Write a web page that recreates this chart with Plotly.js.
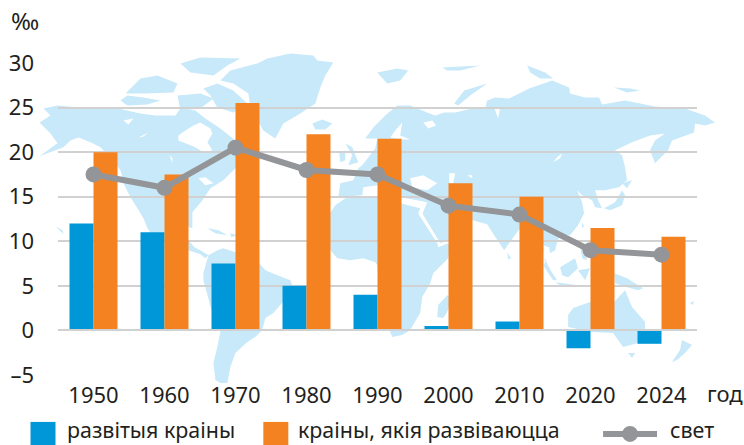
<!DOCTYPE html>
<html><head><meta charset="utf-8">
<script src="https://cdn.plot.ly/plotly-3.0.1.min.js"></script>
<style>html,body{margin:0;padding:0;background:#fff}#c{width:744px;height:445px}</style>
</head><body><div id="c"></div>
<script>
const years = ['1950','1960','1970','1980','1990','2000','2010','2020','2024'];
const developed = [12,11,7.5,5,4,0.5,1,-2,-1.5];
const developing = [20,17.5,25.5,22,21.5,16.5,15,11.5,10.5];
const world = [17.5,16,20.5,18,17.5,14,13,9,8.5];
const yTickVals = [-5,0,5,10,15,20,25,30];
const yTickText = ['–5','0','5','10','15','20','25','30'];
const seriesNames = ['развітыя краіны','краіны, якія развіваюцца','свет'];

// Decorative world-map backdrop: outlines traced in image pixels
const mapLand = [
 // North + Central America
 [39,122,50,115,43,108,57,105,87,108,113,107,140,113,155,115,175,115,180,108,195,110,205,118,220,128,235,140,238,165,223,180,210,188,202,200,192,212,192,228,186,226,180,232,188,240,194,247,200,250,208,255,205,258,200,254,188,250,180,250,164,240,150,232,147,228,143,218,137,208,130,197,124,185,120,170,112,160,100,147,90,142,78,137,70,140,63,147,39,156,57,143,50,133],
 // Greenland
 [267,58,290,53,313,55,317,60,333,62,325,75,320,87,315,103,300,113,283,123,275,138,263,130,250,107,248,93,233,83,220,80,230,70,257,63],
 // Arctic islands
 [180,63,200,57,240,58,227,65,213,75,190,72],[140,78,157,75,177,83,173,92,143,93,125,93],[120,100,127,95,143,97,160,100,147,104,127,105],[177,95,200,93,213,98,200,108,180,110],[203,88,217,83,233,90,247,103,233,112,217,107,210,95],
 // Cuba, Hispaniola, Hawaii, Iceland, Britain, Ireland
 [207,228,218,230,227,235,215,233],[230,233,237,235,231,237],[55,226,62,230,63,234],[312,123,322,119,332,123,325,129,315,129],[345,143,352,147,358,162,348,165,352,155],[339,153,345,150,345,160,340,162],
 // South America
 [208,255,217,250,223,248,235,252,259,263,265,270,277,275,290,280,292,285,287,297,273,313,265,318,262,330,255,337,247,342,235,353,230,367,227,383,220,383,215,380,213,363,217,347,220,332,212,313,203,280,203,273],
 // Eurasia
 [373,127,385,115,397,105,410,105,427,112,435,115,444,112,455,112,472,108,485,108,487,100,495,97,509,98,515,95,529,88,552,80,569,87,570,93,585,97,599,97,602,104,625,100,655,106,685,108,705,115,715,122,705,125,695,123,694,132,672,140,668,150,655,163,650,150,655,140,665,133,650,135,632,142,615,150,622,155,625,167,627,180,619,187,605,190,595,190,598,200,602,208,595,207,592,200,582,195,577,190,582,202,584,213,578,225,570,235,560,235,557,242,555,250,550,253,549,247,543,245,544,257,552,273,545,262,543,250,530,240,519,229,504,250,494,235,487,224,472,220,460,235,448,240,440,243,422,214,427,202,401,197,377,185,363,187,362,195,338,197,340,183,353,180,358,168,362,165,375,148,377,138,365,138],
 // Africa
 [335,205,345,198,377,197,400,203,420,208,418,213,437,242,438,247,448,243,450,245,448,258,433,273,430,283,422,297,420,313,410,330,402,335,392,337,390,332,380,300,377,265,375,262,363,258,350,260,337,258,330,250,322,235,325,220],
 // Madagascar, Sri Lanka
 [447,295,452,296,447,312,443,318,437,317,438,305],[507,252,511,258,508,259],
 // Japan, Hokkaido, Taiwan, Philippines
 [604,208,615,202,622,190,625,195,622,205,610,210],[622,183,632,180,627,188],[582,222,584,226,582,228],[580,245,585,250,587,260,582,258],
 // Arctic islands of Eurasia
 [377,72,397,68,408,70,400,80,387,83],[442,67,480,65,460,70,447,70],[527,65,545,72,553,78,540,78,530,72],[614,87,630,88,640,90,627,92],[454,103,464,90,487,83,470,95,458,105],
 // Sumatra, Borneo, Java, Sulawesi, New Guinea
 [545,262,557,280,553,280,543,265],[560,267,575,258,578,268,568,277,562,275],[555,282,578,285,560,285],[578,270,590,268,585,280],[614,273,627,278,643,288,638,290,627,287,615,283],
 // Australia, Tasmania, New Zealand, Fiji
 [568,315,573,308,590,302,614,302,625,290,632,307,645,322,645,330,638,343,623,347,613,333,592,332,568,327],[628,353,635,353,632,358],[682,340,692,345,685,353,677,360,672,362,680,350],[690,303,694,301,693,305]
];
const mapHoles = [
 // Hudson Bay
 [178,135,185,130,193,125,200,122,210,128,212,133,207,142,212,150,203,152,195,147,185,143,178,140],
 // Canadian and Great lakes
 [123,120,133,118,128,124],[138,137,148,132,143,136],[169,155,172,158,172,163],[198,178,205,177,213,183,205,185],
 // Baltic, White Sea
 [402,122,395,130,390,137,402,139,410,139,400,135],[423,122,432,120,436,125,428,128],
 // Black Sea, Caspian, Aral, Baikal, Ob gulf
 [410,178,423,175,437,183,427,190,412,187],[449,173,455,173,453,183,449,183],[467,175,472,175,472,178],[562,153,560,158,553,162,557,157],[494,107,500,107,498,118],
 // Mediterranean east, Red Sea
 [377,190,400,198,377,195],[418,213,422,213,440,243,437,243]
];

function sx(u){return ((u-57.5)/639.5).toFixed(4);}
function sy(u){return ((375-u)/312.5).toFixed(4);}
function polyPath(p){let s='';for(let i=0;i<p.length;i+=2){s+=(i?'L':'M')+sx(p[i])+','+sy(p[i+1]);}return s+'Z';}
const shapes=[];
mapLand.forEach(p=>shapes.push({type:'path',xref:'paper',yref:'paper',layer:'below',path:polyPath(p),fillcolor:'#c8e9f9',line:{width:0}}));
mapHoles.forEach(p=>shapes.push({type:'path',xref:'paper',yref:'paper',layer:'below',path:polyPath(p),fillcolor:'#ffffff',line:{width:0}}));

const ink='#231f20', face='"Noto Sans", "Open Sans", sans-serif';
const C={blue:'#0097d9',orange:'#f58220',gray:'#939598'};
function fx(px){return (px-57.5)/639.5;}
function fy(py){return (375-py)/312.5;}
// legend keys
shapes.push({type:'rect',xref:'paper',yref:'paper',x0:fx(30),x1:fx(55),y0:fy(422),y1:fy(447),fillcolor:C.blue,line:{width:0}});
shapes.push({type:'rect',xref:'paper',yref:'paper',x0:fx(263),x1:fx(288),y0:fy(422),y1:fy(447),fillcolor:C.orange,line:{width:0}});
shapes.push({type:'line',xref:'paper',yref:'paper',x0:fx(603),x1:fx(657),y0:fy(434),y1:fy(434),line:{color:C.gray,width:6}});
shapes.push({type:'circle',xref:'paper',yref:'paper',x0:fx(622),x1:fx(638),y0:fy(426),y1:fy(442),fillcolor:C.gray,line:{width:0}});

function note(text,px,py,size,va){return {text:text,xref:'paper',yref:'paper',x:fx(px),y:fy(py),xanchor:'left',yanchor:va||'middle',showarrow:false,borderpad:0,font:{family:face,size:size,color:ink}};}
const annotations=[
 note('‰',9,20,24),
 note('год',706,393,22),
 note(seriesNames[0],66,445,21.4,'bottom'),
 note(seriesNames[1],297,445,21.4,'bottom'),
 note(seriesNames[2],669,445,21.4,'bottom')
];

const data=[
 {type:'bar',name:seriesNames[0],x:years,y:developed,marker:{color:C.blue,line:{width:0}}},
 {type:'bar',name:seriesNames[1],x:years,y:developing,marker:{color:C.orange,line:{width:0}}},
 {type:'scatter',mode:'lines+markers',name:seriesNames[2],x:years,y:world,line:{color:C.gray,width:6},marker:{color:C.gray,size:16}}
];
const layout={
 width:744,height:445,showlegend:false,barmode:'group',bargap:0.324,bargroupgap:0,
 margin:{l:57.5,r:47,t:62.5,b:70,pad:0},paper_bgcolor:'rgba(0,0,0,0)',plot_bgcolor:'rgba(0,0,0,0)',
 font:{family:face,color:ink,size:21},
 xaxis:{type:'category',categoryorder:'array',categoryarray:years,range:[-0.5,8.5],showgrid:false,zeroline:false,showline:false,ticks:'',ticklabelstandoff:5,tickfont:{family:face,size:22,color:ink},fixedrange:true},
 yaxis:{range:[-5,30],tickmode:'array',tickvals:yTickVals,ticktext:yTickText,showgrid:true,gridcolor:'#d1d1d1',gridwidth:2,zeroline:true,zerolinecolor:'#d1d1d1',zerolinewidth:2,zerolinelayer:'above traces',showline:false,ticks:'',ticklabelstandoff:23,tickfont:{family:face,size:22,color:ink},fixedrange:true},
 shapes:shapes,annotations:annotations
};
Plotly.newPlot('c',data,layout,{displayModeBar:false,staticPlot:true});
</script></body></html>
